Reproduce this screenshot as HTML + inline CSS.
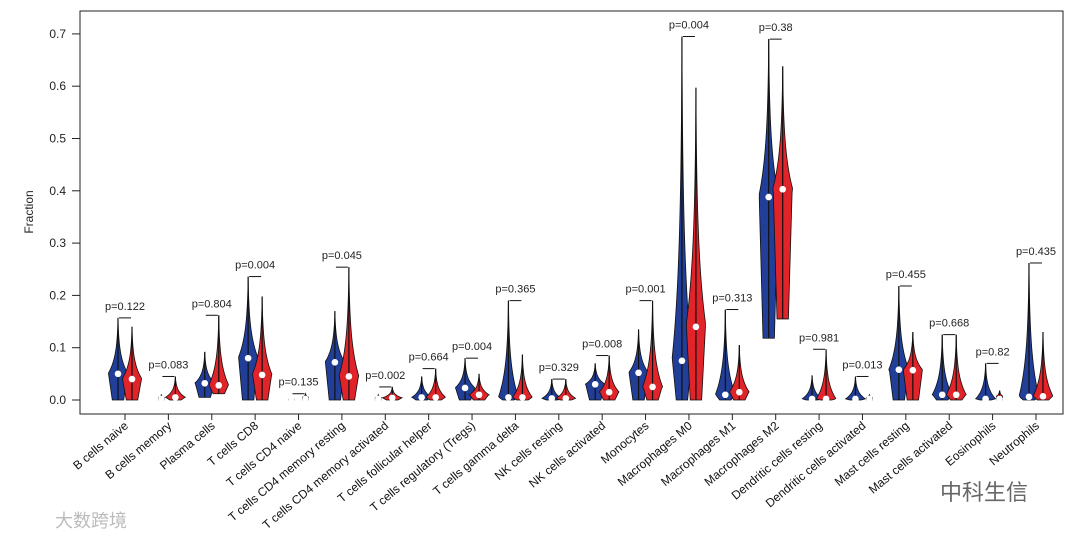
<!DOCTYPE html>
<html><head><meta charset="utf-8"><style>
body{margin:0;background:#fff;}
svg text{font-family:"Liberation Sans","Noto Sans CJK SC",sans-serif;}
</style></head><body>
<svg id="chart" width="1080" height="539" xmlns="http://www.w3.org/2000/svg">
<rect x="80" y="11" width="983" height="403" fill="none" stroke="#222" stroke-width="1"/>
<text transform="translate(33,212) rotate(-90)" text-anchor="middle" font-size="12" fill="#222">Fraction</text>
<g id="yaxis"></g><g id="violins"></g><g id="xlabels"></g>
<text x="55" y="527" font-size="18" fill="#bbb">大数跨境</text>
<text x="940" y="500" font-size="22" fill="#666">中科生信</text>
</svg>
<script>
const categories=["B cells naive","B cells memory","Plasma cells","T cells CD8","T cells CD4 naive","T cells CD4 memory resting","T cells CD4 memory activated","T cells follicular helper","T cells regulatory (Tregs)","T cells gamma delta","NK cells resting","NK cells activated","Monocytes","Macrophages M0","Macrophages M1","Macrophages M2","Dendritic cells resting","Dendritic cells activated","Mast cells resting","Mast cells activated","Eosinophils","Neutrophils"];
const pValues=["0.122","0.083","0.804","0.004","0.135","0.045","0.002","0.664","0.004","0.365","0.329","0.008","0.001","0.004","0.313","0.38","0.981","0.013","0.455","0.668","0.82","0.435"];
const blueMax=[0.157,0.01,0.092,0.236,0.003,0.17,0.01,0.045,0.08,0.19,0.04,0.07,0.135,0.695,0.173,0.69,0.047,0.045,0.218,0.125,0.07,0.262];
const blueMin=[0,0,0.005,0,0,0,0,0,0,0,0,0,0,0,0,0.118,0,0,0,0,0,0];
const blueMed=[0.05,0.002,0.032,0.08,0.001,0.072,0.002,0.005,0.023,0.005,0.003,0.03,0.052,0.075,0.01,0.388,0.002,0.002,0.058,0.01,0.002,0.006];
const redMax=[0.14,0.045,0.162,0.198,0.012,0.254,0.025,0.06,0.05,0.087,0.04,0.085,0.19,0.597,0.105,0.638,0.097,0.01,0.13,0.125,0.018,0.13];
const redMin=[0,0,0.012,0,0,0,0,0,0,0,0,0,0,0,0,0.155,0,0,0,0,0,0];
const redMed=[0.04,0.005,0.028,0.048,0.002,0.045,0.004,0.005,0.01,0.005,0.003,0.015,0.025,0.14,0.015,0.403,0.002,0.002,0.057,0.01,0.002,0.007];
const yTicks=[0,0.1,0.2,0.3,0.4,0.5,0.6,0.7];

const NS="http://www.w3.org/2000/svg";
const y=v=>400-v*523;
const x=i=>125+i*43.38;
function mk(t,a,p){const e=document.createElementNS(NS,t);for(const k in a)e.setAttribute(k,a[k]);p.appendChild(e);return e;}
const ya=document.getElementById('yaxis');
yTicks.forEach(t=>{
  const l=mk('line',{x1:72,x2:80,y1:y(t),y2:y(t),stroke:'#222'},ya);
  
  
  const tx=mk('text',{x:66,y:y(t)+4,'text-anchor':'end','font-size':12,fill:'#222'},ya);
  tx.textContent=t.toFixed(1);
  
  
});
function violin(cx,mn,mx,md,fill,g){
  const W=9.5,n=60,pts=[];
  const range=Math.max(mx-mn,0.0001);
  for(let k=0;k<=n;k++){
    const v=mn+range*k/n;let f;
    if(v<=md){f=0.6+0.4*((v-mn)/Math.max(md-mn,0.0001));}
    else{const u=(v-md)/Math.max(mx-md,0.0001);f=Math.exp(-2.5*u)*(1-u)+0.06*(1-u);}
    let w=W*f; if(range<0.02) w=Math.min(w,3);
    pts.push([w,y(v)]);
  }
  let d='M'+(cx)+','+y(mn);
  pts.forEach(p=>d+=' L'+(cx+p[0])+','+p[1]);
  for(let k=pts.length-1;k>=0;k--)d+=' L'+(cx-pts[k][0])+','+pts[k][1];
  d+='Z';
  const p=mk('path',{d:d,fill:fill,stroke:'#111','stroke-width':0.8},g);
  
  
  const ln=mk('line',{x1:cx,x2:cx,y1:y(mn),y2:y(mx),stroke:'#111','stroke-width':1.2},g);
  
  
  const c=mk('circle',{cx:cx,cy:y(md),r:3.3,fill:'#fff'},g);
  
  
}
const vg=document.getElementById('violins');
const xg=document.getElementById('xlabels');
categories.forEach((c,i)=>{
  const cx=x(i);
  const g=mk('g',{},vg);
  
  
  violin(cx-7,blueMin[i],blueMax[i],blueMed[i],'#213f98',g);
  violin(cx+7,redMin[i],redMax[i],redMed[i],'#e1232a',g);
  const top=Math.max(blueMax[i],redMax[i]);
  const br=mk('line',{x1:cx-6,x2:cx+6,y1:y(top),y2:y(top),stroke:'#111','stroke-width':1},g);
  
  
  const pt=mk('text',{x:cx,y:y(top)-8,'text-anchor':'middle','font-size':11,fill:'#222'},g);
  pt.textContent='p='+pValues[i];
  
  
  const tk=mk('line',{x1:cx,x2:cx,y1:414,y2:420,stroke:'#222'},xg);
  
  
  const lt=mk('text',{transform:`translate(${cx+4},${427}) rotate(-40)`,'text-anchor':'end','font-size':12,fill:'#111'},xg);
  lt.textContent=c;
  
  
});
</script>
</body></html>
